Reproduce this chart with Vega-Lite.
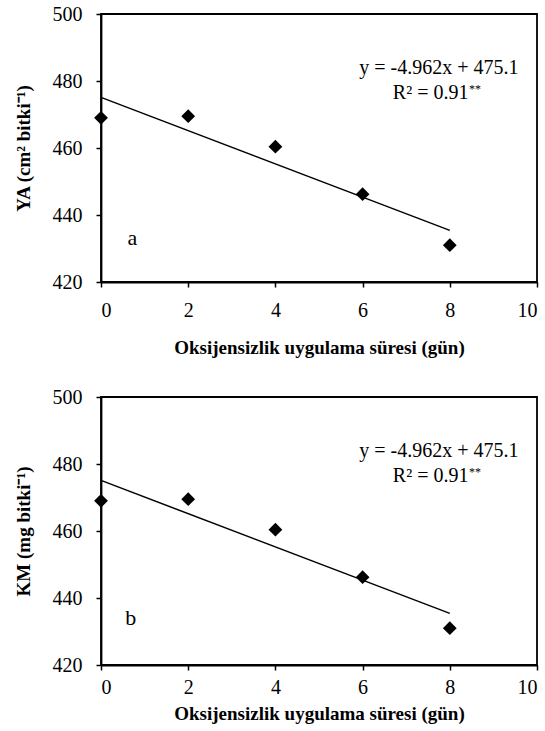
{
  "$schema": "https://vega.github.io/schema/vega-lite/v6.json",
  "padding": {"left": 13, "top": 3, "right": 2, "bottom": 0},
  "background": "white",
  "config": {
    "view": {"stroke": "black", "strokeWidth": 1.8},
    "font": "'Liberation Serif'",
    "concat": {"spacing": 28},
    "text": {"font": "'Liberation Serif'"},
    "axis": {
      "grid": false,
      "domainColor": "black", "domainWidth": 1.8,
      "tickColor": "black", "tickWidth": 1.5, "tickSize": 5,
      "labelFont": "'Liberation Serif'", "labelFontSize": 20, "labelColor": "black",
      "titleFont": "'Liberation Serif'", "titleFontSize": 19, "titleFontWeight": "bold", "titleColor": "black"
    },
    "axisY": {"labelPadding": 14, "titlePadding": 19}
  },
  "datasets": {
    "points": [
      {"x": 0, "y": 469.0},
      {"x": 2, "y": 469.5},
      {"x": 4, "y": 460.4},
      {"x": 6, "y": 446.2},
      {"x": 8, "y": 431.0}
    ],
    "fit": [
      {"x": 0, "y": 475.1},
      {"x": 8, "y": 435.4}
    ],
    "eq": [
      {"x": 7.75, "y": 484.0, "label": "y = -4.962x + 475.1"},
      {"x": 7.56, "y": 476.5, "label": "R² = 0.91"}
    ],
    "star": [
      {"x": 8.44, "y": 477.6, "label": "**"}
    ],
    "panelA": [
      {"x": 0.72, "y": 433.0, "label": "a"}
    ],
    "panelB": [
      {"x": 0.68, "y": 434.0, "label": "b"}
    ]
  },
  "vconcat": [
    {
      "width": 436,
      "height": 268,
      "encoding": {
        "x": {"field": "x", "type": "quantitative", "scale": {"domain": [0, 10], "nice": false, "zero": false},
              "axis": {"values": [0, 2, 4, 6, 8, 10], "title": "Oksijensizlik uygulama süresi (gün)", "labelPadding": 13, "titlePadding": 18}},
        "y": {"field": "y", "type": "quantitative", "scale": {"domain": [420, 500], "nice": false, "zero": false},
              "axis": {"values": [420, 440, 460, 480, 500], "title": "YA (cm² bitki⁻¹)"}}
      },
      "layer": [
        {"data": {"name": "fit"}, "mark": {"type": "line", "color": "black", "strokeWidth": 1.5}},
        {"data": {"name": "points"}, "mark": {"type": "point", "shape": "diamond", "filled": true, "color": "black", "opacity": 1, "size": 190}},
        {"data": {"name": "eq"}, "mark": {"type": "text", "fontSize": 20, "color": "black", "align": "center", "baseline": "middle"},
         "encoding": {"text": {"field": "label"}}},
        {"data": {"name": "star"}, "mark": {"type": "text", "fontSize": 12, "color": "black", "align": "left", "baseline": "middle"},
         "encoding": {"text": {"field": "label"}}},
        {"data": {"name": "panelA"}, "mark": {"type": "text", "fontSize": 22, "color": "black", "align": "center", "baseline": "middle"},
         "encoding": {"text": {"field": "label"}}}
      ]
    },
    {
      "width": 436,
      "height": 268,
      "encoding": {
        "x": {"field": "x", "type": "quantitative", "scale": {"domain": [0, 10], "nice": false, "zero": false},
              "axis": {"values": [0, 2, 4, 6, 8, 10], "title": "Oksijensizlik uygulama süresi (gün)", "labelPadding": 7, "titlePadding": 7}},
        "y": {"field": "y", "type": "quantitative", "scale": {"domain": [420, 500], "nice": false, "zero": false},
              "axis": {"values": [420, 440, 460, 480, 500], "title": "KM (mg bitki⁻¹)"}}
      },
      "layer": [
        {"data": {"name": "fit"}, "mark": {"type": "line", "color": "black", "strokeWidth": 1.5}},
        {"data": {"name": "points"}, "mark": {"type": "point", "shape": "diamond", "filled": true, "color": "black", "opacity": 1, "size": 190}},
        {"data": {"name": "eq"}, "mark": {"type": "text", "fontSize": 20, "color": "black", "align": "center", "baseline": "middle"},
         "encoding": {"text": {"field": "label"}}},
        {"data": {"name": "star"}, "mark": {"type": "text", "fontSize": 12, "color": "black", "align": "left", "baseline": "middle"},
         "encoding": {"text": {"field": "label"}}},
        {"data": {"name": "panelB"}, "mark": {"type": "text", "fontSize": 22, "color": "black", "align": "center", "baseline": "middle"},
         "encoding": {"text": {"field": "label"}}}
      ]
    }
  ]
}
